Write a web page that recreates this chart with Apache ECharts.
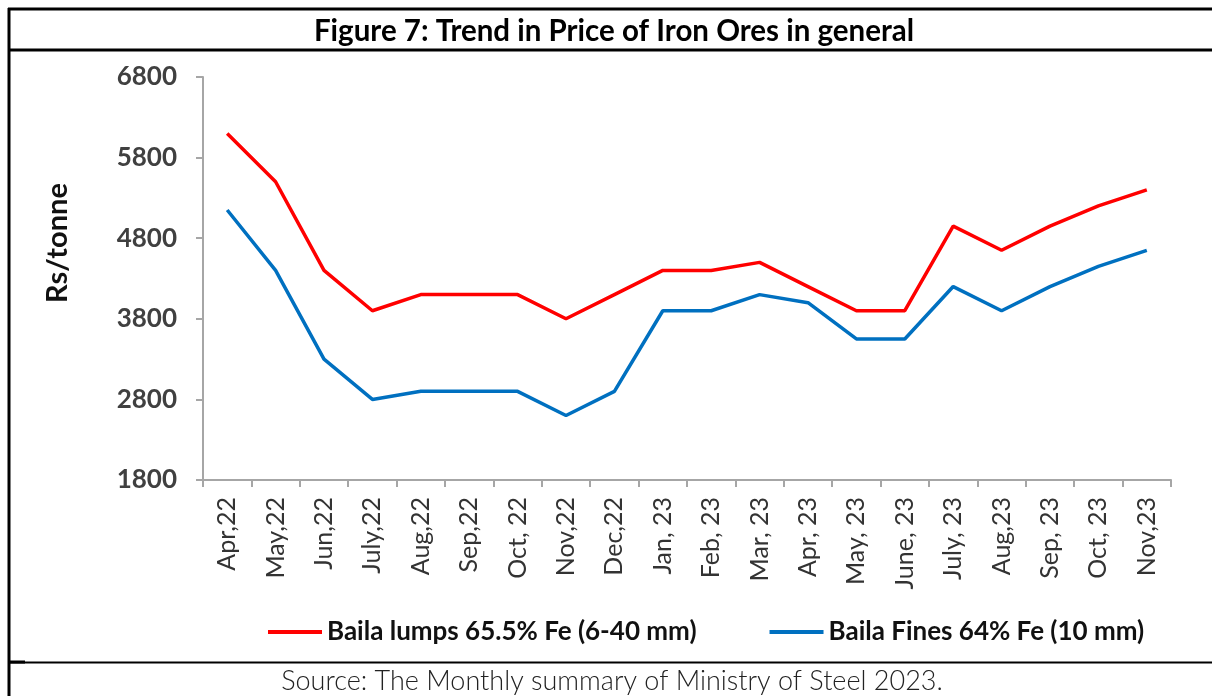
<!DOCTYPE html>
<html>
<head>
<meta charset="utf-8">
<script src="https://cdn.jsdelivr.net/npm/echarts@6/dist/echarts.min.js"></script>
<style>
  html, body { margin: 0; padding: 0; background: #fff; }
  #chart { width: 1212px; height: 696px; }
</style>
</head>
<body>
<div id="chart"></div>
<script>
const titleText = 'Figure 7: Trend in Price of Iron Ores in general';
const sourceText = 'Source: The Monthly summary of Ministry of Steel 2023.';
const yAxisTitle = 'Rs/tonne';
const categories = ['Apr,22', 'May,22', 'Jun,22', 'July,22', 'Aug,22', 'Sep,22', 'Oct, 22', 'Nov,22', 'Dec,22', 'Jan, 23',
  'Feb, 23', 'Mar, 23', 'Apr, 23', 'May, 23', 'June, 23', 'July, 23', 'Aug,23', 'Sep, 23', 'Oct, 23', 'Nov,23'];
const lumpsName = 'Baila lumps 65.5% Fe (6-40 mm)';
const finesName = 'Baila Fines 64% Fe (10 mm)';
const lumps = [6100, 5500, 4400, 3900, 4100, 4100, 4100, 3800, 4100, 4400, 4400, 4500, 4200, 3900, 3900, 4950, 4650, 4950, 5200, 5400];
const fines = [5150, 4400, 3300, 2800, 2900, 2900, 2900, 2600, 2900, 3900, 3900, 4100, 4000, 3550, 3550, 4200, 3900, 4200, 4450, 4650];
const yTicks = [1800, 2800, 3800, 4800, 5800, 6800];

const FONT = 'Lato';
const chart = echarts.init(document.getElementById('chart'), null, { renderer: 'canvas' });

const option = {
  backgroundColor: '#ffffff',
  animation: false,
  grid: { left: 203, right: 41, top: 77, bottom: 216, containLabel: false },
  xAxis: {
    type: 'category',
    data: categories,
    boundaryGap: true,
    axisLine: { show: true, lineStyle: { color: '#a6a6a6', width: 2 } },
    axisTick: { show: true, length: 7, lineStyle: { color: '#a6a6a6', width: 2 } },
    axisLabel: { rotate: 90, margin: 17, color: '#333333', fontFamily: FONT, fontSize: 25, interval: 0 },
    splitLine: { show: false }
  },
  yAxis: {
    type: 'value',
    min: yTicks[0],
    max: yTicks[yTicks.length - 1],
    axisLine: { show: true, lineStyle: { color: '#a6a6a6', width: 2 } },
    axisTick: { show: true, length: 7, lineStyle: { color: '#a6a6a6', width: 2 }, customValues: yTicks },
    axisLabel: { margin: 26, color: '#404040', fontFamily: FONT, fontWeight: 'bold', fontSize: 26, customValues: yTicks,
      formatter: function (v) { return String(v); } },
    splitLine: { show: false }
  },
  legend: {
    left: 263,
    top: 614,
    icon: 'rect',
    itemWidth: 54,
    itemHeight: 4,
    itemGap: 73,
    textStyle: { fontFamily: FONT, fontWeight: 'bold', fontSize: 26, color: '#111111' },
    data: [lumpsName, finesName]
  },
  series: [
    {
      name: lumpsName,
      type: 'line',
      data: lumps,
      symbol: 'none',
      showSymbol: false,
      lineStyle: { color: '#ff0000', width: 3.5 },
      itemStyle: { color: '#ff0000' }
    },
    {
      name: finesName,
      type: 'line',
      data: fines,
      symbol: 'none',
      showSymbol: false,
      lineStyle: { color: '#0070c0', width: 3.5 },
      itemStyle: { color: '#0070c0' }
    }
  ],
  graphic: [
    { type: 'line', shape: { x1: 8, y1: 9, x2: 1212, y2: 9 }, style: { stroke: '#000', lineWidth: 3 } },
    { type: 'line', shape: { x1: 9, y1: 8, x2: 9, y2: 696 }, style: { stroke: '#000', lineWidth: 3 } },
    { type: 'line', shape: { x1: 8, y1: 50, x2: 1212, y2: 50 }, style: { stroke: '#000', lineWidth: 3 } },
    { type: 'line', shape: { x1: 8, y1: 662.5, x2: 1212, y2: 662.5 }, style: { stroke: '#000', lineWidth: 2 } },
    { type: 'line', shape: { x1: 8, y1: 662, x2: 25, y2: 662 }, style: { stroke: '#000', lineWidth: 3 } },
    { type: 'text', x: 614, y: 31, style: { text: titleText, fontFamily: FONT, fontWeight: 'bold', fontSize: 29.5, fill: '#000', textAlign: 'center', textVerticalAlign: 'middle' } },
    { type: 'text', x: 612, y: 681, style: { text: sourceText, fontFamily: FONT, fontWeight: 300, fontSize: 27, fill: '#222', textAlign: 'center', textVerticalAlign: 'middle' } },
    { type: 'text', x: 58, y: 243, rotation: Math.PI / 2, style: { text: yAxisTitle, fontFamily: FONT, fontWeight: 'bold', fontSize: 29, fill: '#111', textAlign: 'center', textVerticalAlign: 'middle' } }
  ]
};
chart.setOption(option);
</script>
</body>
</html>
